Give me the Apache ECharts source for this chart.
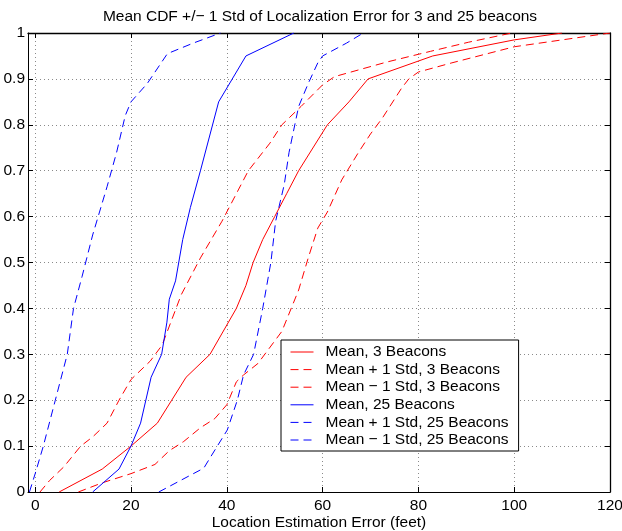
<!DOCTYPE html>
<html>
<head>
<meta charset="utf-8">
<script src="https://cdn.jsdelivr.net/npm/echarts/dist/echarts.min.js"></script>
<style>
  html, body { margin: 0; padding: 0; background: #fff; }
  #chart { width: 622px; height: 531px; }
</style>
</head>
<body>
<div id="chart"></div>
<script>
// CDF curves: [error (feet), cumulative fraction]
var mean3 = [[5,0],[14,0.05],[20,0.1],[25.5,0.15],[28.5,0.2],[31.5,0.25],[36.5,0.3],[42,0.4],[44,0.45],[45.5,0.5],[47.5,0.55],[50,0.6],[52.5,0.65],[55,0.7],[61,0.8],[65.5,0.85],[69.5,0.9],[83,0.95],[100,0.985],[110,1]];
var plus3 = [[1,0],[3,0.025],[6,0.055],[9.5,0.1],[12,0.12],[15,0.15],[17.5,0.2],[20,0.245],[24,0.285],[26.5,0.32],[30.5,0.43],[34.5,0.51],[39,0.59],[42.5,0.66],[44.5,0.7],[49,0.76],[51.5,0.8],[55.5,0.84],[60,0.887],[62.5,0.905],[73.5,0.937],[82.5,0.96],[90.5,0.98],[99.5,1]];
var minus3 = [[9,0],[14,0.02],[20,0.04],[25,0.06],[28,0.09],[31,0.11],[34.5,0.14],[37.5,0.16],[40,0.19],[42,0.24],[43.5,0.255],[46.5,0.28],[51.5,0.35],[55,0.44],[57,0.51],[59,0.575],[61,0.61],[64,0.68],[67.5,0.74],[70,0.78],[72.5,0.815],[76.5,0.88],[78,0.9],[80,0.915],[87,0.935],[100,0.97],[120,1]];
var mean25 = [[12,0],[17.5,0.05],[20,0.1],[22,0.15],[24.2,0.25],[26.4,0.3],[27.5,0.37],[28,0.42],[29.3,0.46],[30.8,0.55],[32.4,0.62],[34.5,0.7],[38.3,0.85],[44,0.95],[54,1]];
var plus25 = [[-1.2,0],[0,0.04],[1.7,0.1],[4.2,0.2],[6.7,0.3],[8,0.4],[9.8,0.47],[12,0.56],[15,0.665],[17,0.74],[18.8,0.82],[20,0.85],[23.4,0.89],[27.6,0.955],[33,0.978],[38.7,1]];
var minus25 = [[25.8,0],[35.2,0.052],[36.6,0.076],[40.1,0.135],[42.2,0.2],[43.5,0.255],[45.6,0.3],[47.5,0.4],[49.2,0.5],[50.2,0.59],[52,0.67],[53,0.74],[55,0.84],[57,0.89],[59,0.935],[60,0.95],[65,0.978],[68.5,1]];

var names = ['Mean, 3 Beacons', 'Mean + 1 Std, 3 Beacons', 'Mean \u2212 1 Std, 3 Beacons',
             'Mean, 25 Beacons', 'Mean + 1 Std, 25 Beacons', 'Mean \u2212 1 Std, 25 Beacons'];
var colors = ['#ff0000', '#ff0000', '#ff0000', '#0000ff', '#0000ff', '#0000ff'];

var font = 'Liberation Sans, Arial, Helvetica, sans-serif';
var fs = 15.5;
var dash = [8, 5];
var gridDots = { color: '#8a8a8a', width: 1, type: [1, 3] };

function line(name, data, color, type) {
    return {
        name: name,
        type: 'line',
        data: data,
        symbol: 'none',
        showSymbol: false,
        animation: false,
        lineStyle: { color: color, width: 1, type: type },
        itemStyle: { color: color }
    };
}

var myChart = echarts.init(document.getElementById('chart'));

var option = {
    backgroundColor: '#fff',
    animation: false,
    color: colors,
    title: {
        text: 'Mean CDF +/\u2212 1 Std of Localization Error for 3 and 25 beacons',
        left: 320,
        top: 9,
        padding: 0,
        textAlign: 'center',
        textStyle: { fontFamily: font, fontSize: fs, fontWeight: 'normal', color: '#000', lineHeight: 16 }
    },
    grid: { left: 28, top: 33, right: 12, bottom: 39, outerBoundsMode: 'none', containLabel: false },
    legend: {
        orient: 'vertical',
        left: 281,
        top: 340,
        padding: [4, 10, 3, 9],
        itemWidth: 23,
        itemHeight: 14,
        itemGap: 1.6,
        borderColor: '#000',
        borderWidth: 1,
        backgroundColor: '#fff',
        data: names,
        itemStyle: { opacity: 0 },
        lineStyle: { width: 1 },
        textStyle: { fontFamily: font, fontSize: fs, lineHeight: 14, color: '#000', padding: [0, 0, 0, 7] }
    },
    xAxis: [{
        type: 'value',
        min: -1.5,
        max: 120,
        splitNumber: 6,
        name: 'Location Estimation Error (feet)',
        nameLocation: 'middle',
        nameGap: 31,
        nameMoveOverlap: false,
        nameTextStyle: { fontFamily: font, fontSize: fs, color: '#000', verticalAlign: 'middle', lineHeight: 16 },
        axisLine: { show: true, onZero: false, lineStyle: { color: '#000', width: 1 } },
        axisTick: { show: true, inside: true, length: 5, lineStyle: { color: '#000' } },
        axisLabel: { showMinLabel: false, margin: 6, fontFamily: font, fontSize: fs, color: '#000' },
        splitLine: { show: true, lineStyle: gridDots }
    }, {
        type: 'value',
        position: 'top',
        min: -1.5,
        max: 120,
        splitNumber: 6,
        axisLine: { show: true, onZero: false, lineStyle: { color: '#000', width: 1.3 } },
        axisTick: { show: true, inside: true, length: 5, lineStyle: { color: '#000' } },
        axisLabel: { show: false },
        splitLine: { show: false }
    }],
    yAxis: [{
        type: 'value',
        min: 0,
        max: 1,
        interval: 0.1,
        axisLine: { show: true, onZero: false, lineStyle: { color: '#000', width: 1 } },
        axisTick: { show: true, inside: true, length: 5, lineStyle: { color: '#000' } },
        axisLabel: { margin: 3, fontFamily: font, fontSize: fs, color: '#000' },
        splitLine: { show: true, lineStyle: gridDots }
    }, {
        type: 'value',
        position: 'right',
        min: 0,
        max: 1,
        interval: 0.1,
        axisLine: { show: true, onZero: false, lineStyle: { color: '#000', width: 1.3 } },
        axisTick: { show: true, inside: true, length: 5, lineStyle: { color: '#000' } },
        axisLabel: { show: false },
        splitLine: { show: false }
    }],
    series: [
        line(names[0], mean3, colors[0], 'solid'),
        line(names[1], plus3, colors[1], dash),
        line(names[2], minus3, colors[2], dash),
        line(names[3], mean25, colors[3], 'solid'),
        line(names[4], plus25, colors[4], dash),
        line(names[5], minus25, colors[5], dash)
    ]
};

myChart.setOption(option);
</script>
</body>
</html>
